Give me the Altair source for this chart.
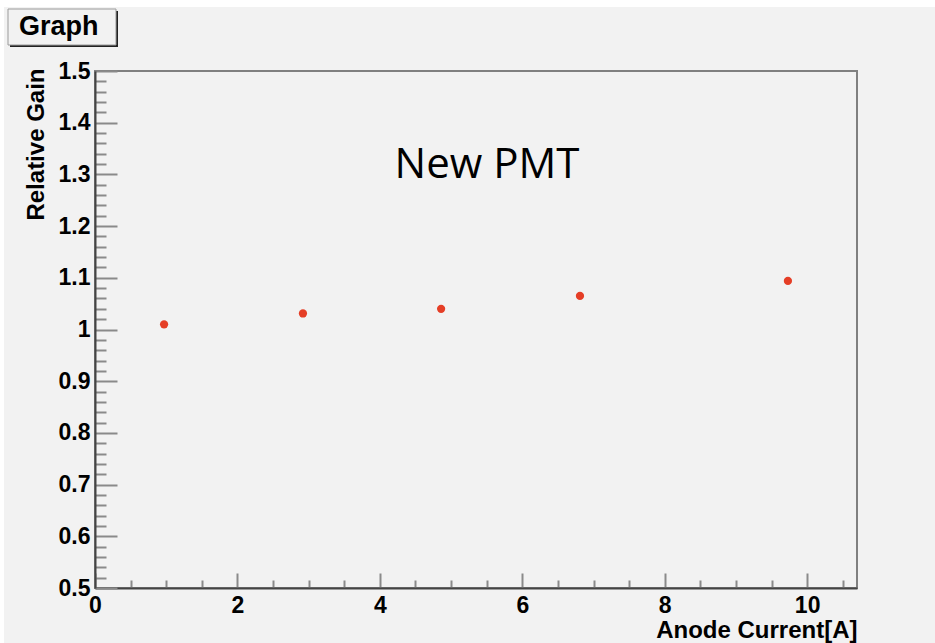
import altair as alt
import pandas as pd

# ---- data ----
anode_current = [0.97, 2.92, 4.86, 6.81, 9.73]
relative_gain = [1.010, 1.031, 1.040, 1.065, 1.094]

x_major = [0, 2, 4, 6, 8, 10]
x_minor = [0.5, 1, 1.5, 2.5, 3, 3.5, 4.5, 5, 5.5, 6.5, 7, 7.5, 8.5, 9, 9.5, 10.5]
y_major = [0.5, 0.6, 0.7, 0.8, 0.9, 1.0, 1.1, 1.2, 1.3, 1.4, 1.5]
y_minor = [round(0.5 + 0.02 * i, 2) for i in range(51) if i % 5 != 0]

x_domain = [0, 10.7]
y_domain = [0.5, 1.5]

W, H = 762, 517
FONT = "Liberation Sans"
BG = "#f2f2f2"
TICK = "#8a8a8a"

df = pd.DataFrame({"x": anode_current, "y": relative_gain})
one = pd.DataFrame({"a": [0]})

xs = alt.Scale(domain=x_domain, nice=False, zero=False)
ys = alt.Scale(domain=y_domain, nice=False, zero=False)

base = alt.Chart(df)

points = base.mark_circle(size=68, color="#e53e26", opacity=1).encode(
    x=alt.X("x:Q", scale=xs, axis=alt.Axis(
        orient="bottom", values=x_major, format="d", ticks=False,
        labelFont=FONT, labelFontWeight="bold", labelFontSize=23, labelColor="black",
        labelPadding=6, labelBaseline="top", labelFlush=False, labelOverlap=False,
        domainColor="#444", domainWidth=2, grid=False,
        title="Anode Current[A]", titleFont=FONT, titleFontWeight="bold",
        titleFontSize=24, titleColor="black", titleAnchor="end", titleAlign="right",
        titleBaseline="alphabetic", titleX=W, titleY=49)),
    y=alt.Y("y:Q", scale=ys, axis=alt.Axis(
        orient="left", values=y_major, format=".1~f", ticks=False,
        labelFont=FONT, labelFontWeight="bold", labelFontSize=23, labelColor="black",
        labelPadding=5, labelAlign="right", labelBaseline="middle",
        labelFlush=False, labelOverlap=False,
        domainColor="#444", domainWidth=2, grid=False,
        title="Relative Gain", titleFont=FONT, titleFontWeight="bold",
        titleFontSize=24, titleColor="black", titleAngle=270, titleAlign="right",
        titleBaseline="alphabetic", titleX=-52, titleY=-3)),
)


def tick_layer(channel, values, size):
    hidden = dict(labels=False, domain=False, title=None, grid=False,
                  tickColor=TICK, tickWidth=2, tickSize=size, offset=-size, values=values)
    if channel == "y":
        enc = dict(
            x=alt.X("x:Q", scale=xs, axis=None),
            y=alt.Y("y:Q", scale=ys, axis=alt.Axis(orient="left", **hidden)),
        )
    else:
        enc = dict(
            x=alt.X("x:Q", scale=xs, axis=alt.Axis(orient="bottom", **hidden)),
            y=alt.Y("y:Q", scale=ys, axis=None),
        )
    return base.mark_point(opacity=0, size=1).encode(**enc)


label = alt.Chart(one).mark_text(
    text="New PMT", font="Open Sans", fontSize=42, color="black",
    align="center", baseline="alphabetic"
).encode(x=alt.value(392), y=alt.value(107))

# decorative "Graph" title box (ROOT style)
white_top = alt.Chart(one).mark_rect(color="white").encode(
    x=alt.value(-95), x2=alt.value(840), y=alt.value(-71), y2=alt.value(-64))
white_left = alt.Chart(one).mark_rect(color="white").encode(
    x=alt.value(-95), x2=alt.value(-91), y=alt.value(-71), y2=alt.value(572))
shadow = alt.Chart(one).mark_rect(color="#222").encode(
    x=alt.value(-85), x2=alt.value(23), y=alt.value(-60), y2=alt.value(-24))
box = alt.Chart(one).mark_rect(fill=BG, stroke="#9a9a9a", strokeWidth=1).encode(
    x=alt.value(-87), x2=alt.value(21), y=alt.value(-62), y2=alt.value(-26))
box_text = alt.Chart(one).mark_text(
    text="Graph", font=FONT, fontWeight="bold", fontSize=27, color="black",
    align="left", baseline="alphabetic"
).encode(x=alt.value(-76), y=alt.value(-36))

chart = alt.layer(
    white_top, white_left, shadow, box, box_text,
    tick_layer("y", y_major, 22),
    tick_layer("y", y_minor, 11),
    tick_layer("x", x_major, 15),
    tick_layer("x", x_minor, 8),
    points, label,
).resolve_axis(
    x="independent", y="independent"
).properties(
    width=W, height=H,
    autosize=alt.AutoSizeParams(type="none"),
    padding={"left": 95, "top": 71, "right": 78, "bottom": 55},
    background=BG,
).configure_view(
    stroke="#808080", strokeWidth=2, fill=BG
)

chart.save("out.html", embed_options={"renderer": "svg", "actions": False})
